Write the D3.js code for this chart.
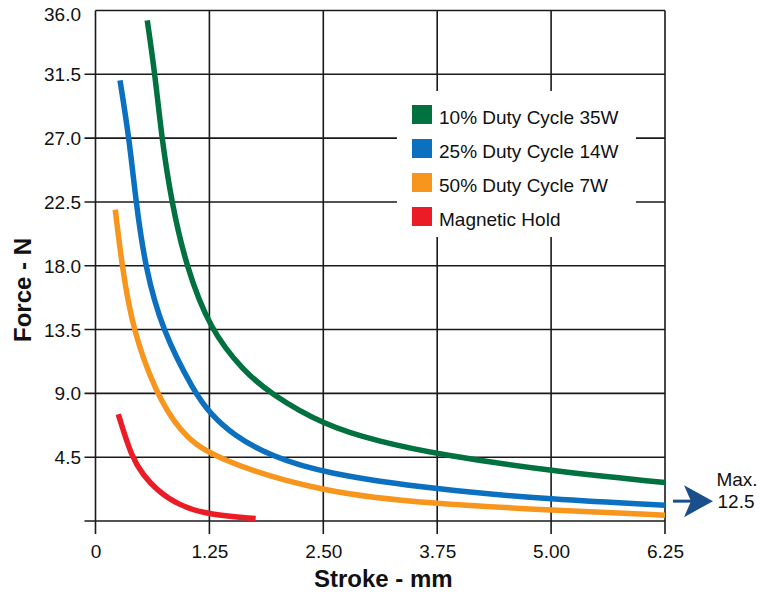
<!DOCTYPE html>
<html>
<head>
<meta charset="utf-8">
<script src="https://cdn.jsdelivr.net/npm/d3@7"></script>
<style>
  body { margin: 0; background: #fff; }
  text { font-family: "Liberation Sans", Arial, Helvetica, sans-serif; fill: #111; }
</style>
</head>
<body>
<div id="chart"></div>
<script>
var svgWidth = 760;
var svgHeight = 594;

var margin = { top: 10.5, right: 95, bottom: 73, left: 95.5 };
var width = svgWidth - margin.left - margin.right;
var height = svgHeight - margin.top - margin.bottom;

// data (stroke mm, force N)
var seriesNames = ["10% Duty Cycle 35W", "25% Duty Cycle 14W", "50% Duty Cycle 7W", "Magnetic Hold"];
var seriesColors = ["#00713f", "#0a70bf", "#f7951d", "#ec1c27"];

var duty10 = [
  [0.568, 35.3], [0.653, 31.5], [0.727, 27.0], [0.834, 22.5], [0.993, 18.0],
  [1.257, 13.5], [1.622, 10.6], [1.915, 9.0], [2.508, 6.75], [3.122, 5.58],
  [3.751, 4.71], [5.01, 3.51], [6.25, 2.71]
];
var duty25 = [
  [0.269, 31.07], [0.371, 26.92], [0.444, 22.5], [0.543, 18.0], [0.727, 13.5],
  [1.092, 9.0], [1.257, 7.6], [1.512, 6.05], [1.915, 4.6], [2.508, 3.35],
  [3.751, 2.21], [5.01, 1.52], [6.25, 1.11]
];
var duty50 = [
  [0.217, 21.96], [0.291, 17.96], [0.408, 13.5], [0.664, 9.0], [0.927, 6.3],
  [1.257, 4.48], [2.508, 1.94], [3.751, 1.2], [5.01, 0.76], [6.25, 0.41]
];
var magHold = [
  [0.25, 7.53], [0.397, 4.48], [0.525, 3.23], [0.672, 2.18], [0.909, 1.11],
  [1.257, 0.41], [1.758, 0.18]
];
var allSeries = [duty10, duty25, duty50, magHold];

var xTicks = [0, 1.25, 2.5, 3.75, 5, 6.25];
var yTicks = [4.5, 9, 13.5, 18, 22.5, 27, 31.5, 36];
var yGrid = [0, 4.5, 9, 13.5, 18, 22.5, 27, 31.5];

var svg = d3.select("#chart")
  .append("svg")
  .attr("width", svgWidth)
  .attr("height", svgHeight);

var chartGroup = svg.append("g")
  .attr("transform", `translate(${margin.left}, ${margin.top})`);

var x = d3.scaleLinear().domain([0, 6.25]).range([0, width]);
var y = d3.scaleLinear().domain([0, 36]).range([height, 0]);

// horizontal grid (sticking out left as ticks)
chartGroup.selectAll(".hgrid")
  .data(yGrid)
  .enter().append("line")
  .attr("x1", -11).attr("x2", width)
  .attr("y1", d => y(d)).attr("y2", d => y(d))
  .attr("stroke", "#1a1a1a").attr("stroke-width", 1.6);

// vertical grid (sticking out below as ticks)
chartGroup.selectAll(".vgrid")
  .data(xTicks)
  .enter().append("line")
  .attr("x1", d => x(d)).attr("x2", d => x(d))
  .attr("y1", 0).attr("y2", height + 13)
  .attr("stroke", "#1a1a1a").attr("stroke-width", 1.6);

// top border
chartGroup.append("line")
  .attr("x1", 0).attr("x2", width)
  .attr("y1", 0).attr("y2", 0)
  .attr("stroke", "#1a1a1a").attr("stroke-width", 1.6);

// axes labels
var leftAxis = d3.axisLeft(y).tickValues(yTicks).tickSize(0).tickPadding(14.5)
  .tickFormat(d3.format(".1f"));
var yAxisG = chartGroup.append("g").call(leftAxis);
yAxisG.select(".domain").remove();
yAxisG.selectAll("text")
  .style("font-size", "19px")
  .attr("dy", d => d === 36 ? "0.55em" : "0.34em");

var bottomAxis = d3.axisBottom(x).tickValues(xTicks).tickSize(0).tickPadding(24)
  .tickFormat(d => d === 0 ? "0" : d3.format(".2f")(d));
var xAxisG = chartGroup.append("g")
  .attr("transform", `translate(0, ${height})`)
  .call(bottomAxis);
xAxisG.select(".domain").remove();
xAxisG.selectAll("text").style("font-size", "19px");

// axis titles
chartGroup.append("text")
  .attr("x", width / 2 + 3)
  .attr("y", height + 66)
  .attr("text-anchor", "middle")
  .style("font-size", "24px")
  .style("font-weight", "bold")
  .text("Stroke - mm");

chartGroup.append("text")
  .attr("transform", "rotate(-90)")
  .attr("x", -(290 - margin.top))
  .attr("y", -margin.left + 31)
  .attr("text-anchor", "middle")
  .style("font-size", "24px")
  .style("font-weight", "bold")
  .text("Force - N");

// curves
var line = d3.line()
  .x(d => x(d[0]))
  .y(d => y(d[1]))
  .curve(d3.curveBasis);

allSeries.forEach(function(s, i) {
  chartGroup.append("path")
    .datum(s)
    .attr("d", line)
    .attr("fill", "none")
    .attr("stroke", seriesColors[i])
    .attr("stroke-width", 5.5)
    .attr("stroke-linecap", "butt");
});

// legend
var legend = svg.append("g");
legend.append("rect")
  .attr("x", 397).attr("y", 91)
  .attr("width", 239).attr("height", 146)
  .attr("fill", "#fff");

seriesNames.forEach(function(name, i) {
  legend.append("rect")
    .attr("x", 412).attr("y", 105 + i * 34)
    .attr("width", 20).attr("height", 19)
    .attr("fill", seriesColors[i]);
  legend.append("text")
    .attr("x", 439).attr("y", 124 + i * 34)
    .style("font-size", "19px")
    .text(name);
});

// max stroke arrow
var arrowG = svg.append("g")
  .attr("transform", `translate(${margin.left + width}, ${margin.top + y(1.4)})`);
arrowG.append("line")
  .attr("x1", 8).attr("x2", 28)
  .attr("y1", 0).attr("y2", 0)
  .attr("stroke", "#1b4f8c").attr("stroke-width", 3);
arrowG.append("path")
  .attr("d", "M19,-16 L48,0 L19,16 L26,0 Z")
  .attr("fill", "#1b4f8c");

svg.append("text")
  .attr("x", 737).attr("y", 486)
  .attr("text-anchor", "middle")
  .style("font-size", "19px")
  .text("Max.");
svg.append("text")
  .attr("x", 736).attr("y", 508)
  .attr("text-anchor", "middle")
  .style("font-size", "19px")
  .text("12.5");
</script>
</body>
</html>
